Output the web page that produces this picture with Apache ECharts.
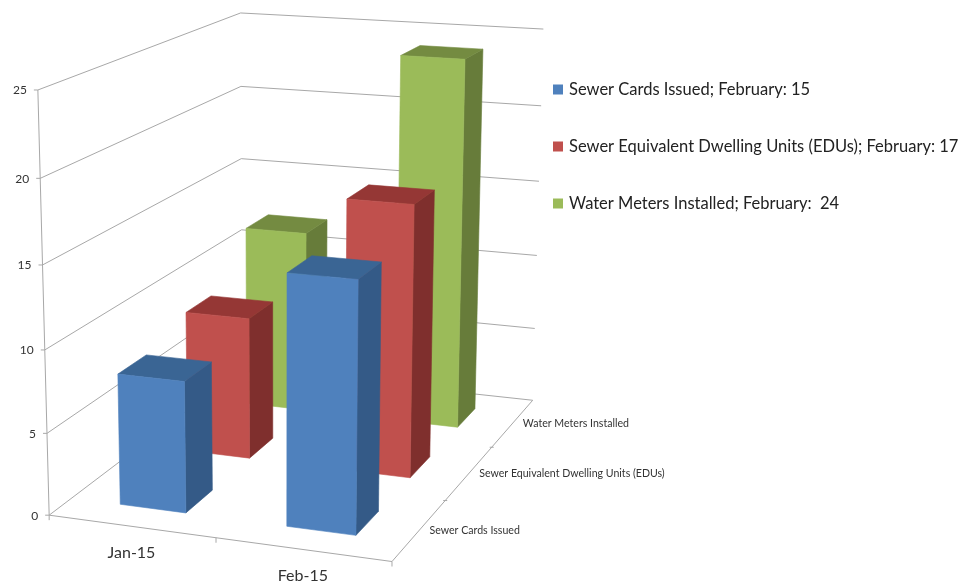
<!DOCTYPE html>
<html><head><meta charset="utf-8">
<style>html,body{margin:0;padding:0;background:#fff}#c{width:971px;height:585px}</style>
<script src="https://cdn.jsdelivr.net/npm/echarts@6/dist/echarts.min.js"></script>
</head><body><div id="c"></div>
<script>
const categories = ['Jan-15', 'Feb-15'];
const depthLabels = ['Sewer Cards Issued', 'Sewer Equivalent Dwelling Units (EDUs)', 'Water Meters Installed'];
const sewerCards = [8, 15];
const sewerEdus = [9, 17];
const waterMeters = [12, 24];
const legendLabels = ['Sewer Cards Issued; February: 15', 'Sewer Equivalent Dwelling Units (EDUs); February: 17', 'Water Meters Installed; February:  24'];
const yTicks = [0, 5, 10, 15, 20, 25];
const yMax = 25;

const GRID = {left: 50, top: 90, width: 342, height: 426};
// calibration of the 3-D box: [u, v, w] -> pixel
const calib = [
  [0,0,0, 50,516],[1,0,0, 392,561],[0,1,0, 241,368],[1,1,0, 533,401],
  [0,0,1, 37.5,90],[0,1,1, 241,13],[1,1,1, 543,29],
  [0,0,.6, 42,265],[0,0,.2, 47,433],[1,1,.6, 539,181],[0,1,.6, 242,159]
];
function solve(A, b) {
  const n = b.length, M = A.map((r, i) => r.concat(b[i]));
  for (let c = 0; c < n; c++) {
    let p = c; for (let r = c + 1; r < n; r++) if (Math.abs(M[r][c]) > Math.abs(M[p][c])) p = r;
    [M[c], M[p]] = [M[p], M[c]];
    for (let r = 0; r < n; r++) if (r !== c) { const f = M[r][c] / M[c][c]; for (let k = c; k <= n; k++) M[r][k] -= f * M[c][k]; }
  }
  return M.map((r, i) => r[n] / r[i]);
}
const H = (function () {
  const rows = [], rhs = [];
  calib.forEach(([u, v, w, x, y]) => {
    rows.push([u, v, w, 1, 0, 0, 0, 0, -x * u, -x * v, -x * w]); rhs.push(x);
    rows.push([0, 0, 0, 0, u, v, w, 1, -y * u, -y * v, -y * w]); rhs.push(y);
  });
  const n = 11, A = Array.from({length: n}, () => new Array(n).fill(0)), b = new Array(n).fill(0);
  rows.forEach((r, i) => { for (let a = 0; a < n; a++) { b[a] += r[a] * rhs[i]; for (let c = 0; c < n; c++) A[a][c] += r[a] * r[c]; } });
  return solve(A, b);
})();
function proj(u, v, w) {
  const d = H[8] * u + H[9] * v + H[10] * w + 1;
  return [(H[0] * u + H[1] * v + H[2] * w + H[3]) / d, (H[4] * u + H[5] * v + H[6] * w + H[7]) / d];
}
const toU = x => (x - GRID.left) / GRID.width;
const toW = y => (GRID.top + GRID.height - y) / GRID.height;

const BAR_U = 0.1, BAR_V = 0.0667;
const line = (pts, c, lw) => ({type: 'polyline', silent: true, shape: {points: pts}, style: {stroke: c || '#a8a8a8', lineWidth: lw || 1, fill: null}});
const label = (t, x, y, size, align, color) => ({type: 'text', silent: true, style: {text: t, x, y, font: size + 'px Lato, Carlito, sans-serif', fill: color || '#333', align, verticalAlign: 'middle'}});

function barSeries(name, values, j, front, side, top) {
  return {
    name, type: 'custom', coordinateSystem: 'cartesian2d', itemStyle: {color: front}, z: 5 + (2 - j),
    encode: {x: 0, y: 1}, data: values.map((v, i) => [i, v]),
    renderItem(params, api) {
      const c = api.coord([api.value(0), api.value(1)]);
      const u = toU(c[0]), w = toW(c[1]), v = (j + .5) / 3;
      const u0 = u - BAR_U, u1 = u + BAR_U, v0 = v - BAR_V, v1 = v + BAR_V;
      const poly = (pts, fill) => ({type: 'polygon', shape: {points: pts}, style: {fill, stroke: fill, lineWidth: 0.6}});
      return {type: 'group', children: [
        poly([proj(u1, v0, 0), proj(u1, v1, 0), proj(u1, v1, w), proj(u1, v0, w)], side),
        poly([proj(u0, v0, w), proj(u1, v0, w), proj(u1, v1, w), proj(u0, v1, w)], top),
        poly([proj(u0, v0, 0), proj(u1, v0, 0), proj(u1, v0, w), proj(u0, v0, w)], front)
      ]};
    }
  };
}
const frameTicks = {
  type: 'custom', silent: true, z: 1, data: yTicks.map(t => [0, t]), encode: {x: 0, y: 1},
  renderItem(params, api) {
    const val = api.value(1), w = toW(api.coord([0, val])[1]);
    const a = proj(0, 0, w), b = proj(0, 1, w), c = proj(1, 1, w);
    return {type: 'group', children: [
      line([[a[0] - 4, a[1]], a, b, c]),
      label(String(val), a[0] - 11, a[1] + 0.5, 12, 'right')
    ]};
  }
};
const frameBox = {
  type: 'custom', silent: true, z: 1, data: [[0, yMax]], encode: {x: 0, y: 1},
  renderItem(params, api) {
    const top = toW(api.coord([0, api.value(1)])[1]);
    const tick = (u, v) => { const p = proj(u, v, 0); return line([p, [p[0], p[1] + 5]]); };
    return {type: 'group', children: [
      line([proj(0, 0, top), proj(0, 0, 0)]),
      line([proj(0, 0, 0), proj(1, 0, 0), proj(1, 1, 0)]),
      tick(0, 0), tick(.5, 0), tick(1, 0),
      {type: 'group', children: [1 / 3, 2 / 3].map(v => { const p = proj(1, v, 0); return line([[p[0] - 2, p[1]], [p[0] + 2, p[1]]]); })}
    ]};
  }
};
const frameCats = {
  type: 'custom', silent: true, z: 10, data: categories.map((c, i) => [i, 0]), encode: {x: 0, y: 1},
  renderItem(params, api) {
    const c = api.coord([api.value(0), 0]), p = proj(toU(c[0]), 0, 0);
    return label(categories[params.dataIndex], p[0], p[1] + 26.5, 16, 'center');
  }
};
const frameDepth = {
  type: 'custom', silent: true, z: 10, data: depthLabels.map((d, i) => [0, 0]), encode: {x: 0, y: 1},
  renderItem(params, api) {
    const p = proj(1, (params.dataIndex + .5) / 3, 0);
    return label(depthLabels[params.dataIndex], p[0] + 10, p[1] + 0.5, 10.6, 'left');
  }
};

const chart = echarts.init(document.getElementById('c'), null, {renderer: 'canvas'});
chart.setOption({
  animation: false,
  backgroundColor: '#fff',
  grid: {left: GRID.left, top: GRID.top, width: GRID.width, height: GRID.height},
  xAxis: {type: 'category', data: categories, show: false},
  yAxis: {type: 'value', min: 0, max: yMax, interval: 5, show: false},
  legend: {orient: 'vertical', left: 553, top: 81, padding: 0, itemWidth: 10, itemHeight: 10, itemGap: 40, icon: 'rect', selectedMode: false,
    data: legendLabels, textStyle: {fontFamily: 'Lato', fontSize: 16.5, color: '#222', padding: [0, 0, 0, 1]}},
  tooltip: {show: false},
  series: [
    frameBox, frameTicks,
    barSeries(legendLabels[2], waterMeters, 2, '#9BBB59', '#677C3A', '#748B41'),
    barSeries(legendLabels[1], sewerEdus, 1, '#C0504D', '#7F2F2D', '#953735'),
    barSeries(legendLabels[0], sewerCards, 0, '#4F81BD', '#345A87', '#3A6594'),
    frameCats, frameDepth
  ]
});
</script></body></html>
